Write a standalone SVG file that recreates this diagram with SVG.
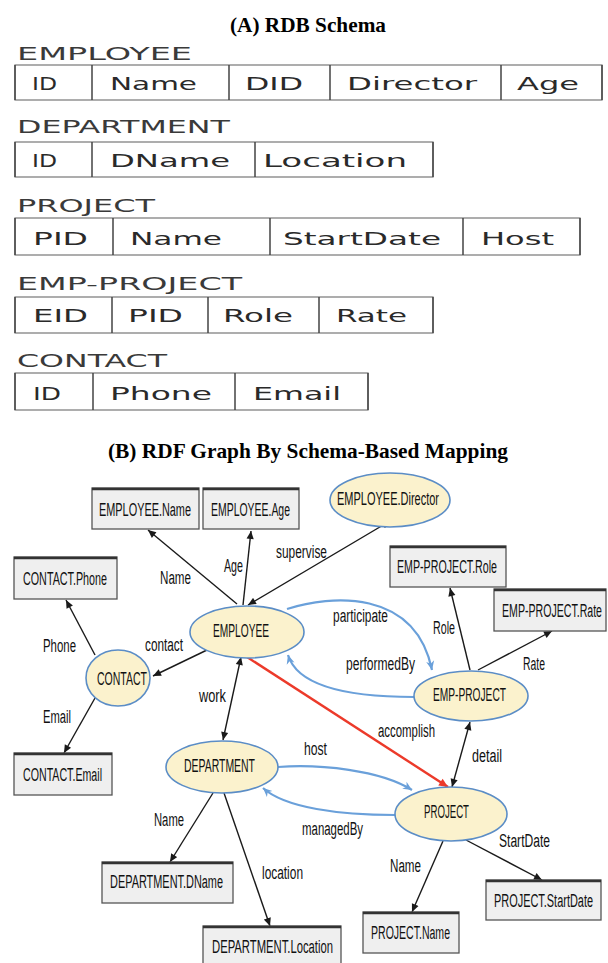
<svg xmlns="http://www.w3.org/2000/svg" width="608" height="963" viewBox="0 0 608 963">
<style>
.title{font-family:"Liberation Serif","Times New Roman",serif;font-weight:bold;font-size:21px;fill:#000}
.tname{font-family:"DejaVu Sans","Verdana",sans-serif;font-size:18px;fill:#3a3a3a}
.cell{font-family:"DejaVu Sans","Verdana",sans-serif;font-size:18px;fill:#2a2a2a}
.tbl{fill:#fff;stroke:#777;stroke-width:1.2}
.div{stroke:#444;stroke-width:1.5}
.g{font-family:"Liberation Sans Narrow","Liberation Sans","Arial",sans-serif;font-size:18px;fill:#111}
.box{fill:#efefef;stroke:#555;stroke-width:1.3}
.boxtop{stroke:#333;stroke-width:2.5}
.ell{fill:#fbf2cd;stroke:#5b8dc6;stroke-width:1.6}
.e{fill:none;stroke:#1a1a1a;stroke-width:1.4}
.b{fill:none;stroke:#6aa0da;stroke-width:2.2}
.r{fill:none;stroke:#ec3a2a;stroke-width:2.4}
</style>
<defs>
<marker id="ak" viewBox="0 0 10 10" refX="10" refY="5" markerWidth="9" markerHeight="8" orient="auto-start-reverse" markerUnits="userSpaceOnUse"><path d="M0,0.5 L10,5 L0,9.5 z" fill="#1a1a1a"/></marker>
<marker id="ab" viewBox="0 0 10 10" refX="10" refY="5" markerWidth="10" markerHeight="9" orient="auto" markerUnits="userSpaceOnUse"><path d="M0,0.5 L10,5 L0,9.5 L3,5 z" fill="#6aa0da"/></marker>
<marker id="ar" viewBox="0 0 10 10" refX="10" refY="5" markerWidth="10" markerHeight="9" orient="auto" markerUnits="userSpaceOnUse"><path d="M0,0.5 L10,5 L0,9.5 z" fill="#ec3a2a"/></marker>
</defs>

<text class="title" x="230" y="32" textLength="156" lengthAdjust="spacingAndGlyphs">(A) RDB Schema</text>

<g id="t-employee">
<text class="tname" x="17" y="60" textLength="175" lengthAdjust="spacingAndGlyphs">EMPLOYEE</text>
<rect class="tbl" x="15" y="65" width="587" height="35"/>
<path class="div" d="M15,65V100M92,65V100M229,65V100M330,65V100M501,65V100M602,65V100"/>
<text class="cell" x="32" y="90" textLength="25" lengthAdjust="spacingAndGlyphs">ID</text>
<text class="cell" x="110" y="90" textLength="87" lengthAdjust="spacingAndGlyphs">Name</text>
<text class="cell" x="245" y="90" textLength="58" lengthAdjust="spacingAndGlyphs">DID</text>
<text class="cell" x="347" y="90" textLength="130" lengthAdjust="spacingAndGlyphs">Director</text>
<text class="cell" x="517" y="90" textLength="62" lengthAdjust="spacingAndGlyphs">Age</text>
</g>

<g id="t-department">
<text class="tname" x="17" y="133" textLength="213" lengthAdjust="spacingAndGlyphs">DEPARTMENT</text>
<rect class="tbl" x="15" y="142" width="418" height="35"/>
<path class="div" d="M15,142V177M92,142V177M255,142V177M433,142V177"/>
<text class="cell" x="32" y="167" textLength="25" lengthAdjust="spacingAndGlyphs">ID</text>
<text class="cell" x="110" y="167" textLength="120" lengthAdjust="spacingAndGlyphs">DName</text>
<text class="cell" x="263" y="167" textLength="144" lengthAdjust="spacingAndGlyphs">Location</text>
</g>

<g id="t-project">
<text class="tname" x="17" y="212" textLength="138" lengthAdjust="spacingAndGlyphs">PROJECT</text>
<rect class="tbl" x="15" y="218" width="565" height="37"/>
<path class="div" d="M15,218V255M113,218V255M270,218V255M463,218V255M580,218V255"/>
<text class="cell" x="33" y="245" textLength="55" lengthAdjust="spacingAndGlyphs">PID</text>
<text class="cell" x="130" y="245" textLength="92" lengthAdjust="spacingAndGlyphs">Name</text>
<text class="cell" x="283" y="245" textLength="158" lengthAdjust="spacingAndGlyphs">StartDate</text>
<text class="cell" x="481" y="245" textLength="73" lengthAdjust="spacingAndGlyphs">Host</text>
</g>

<g id="t-emp-project">
<text class="tname" x="17" y="290" textLength="225" lengthAdjust="spacingAndGlyphs">EMP-PROJECT</text>
<rect class="tbl" x="15" y="297" width="418" height="36"/>
<path class="div" d="M15,297V333M112,297V333M208,297V333M319,297V333M433,297V333"/>
<text class="cell" x="33" y="322" textLength="55" lengthAdjust="spacingAndGlyphs">EID</text>
<text class="cell" x="128" y="322" textLength="55" lengthAdjust="spacingAndGlyphs">PID</text>
<text class="cell" x="223" y="322" textLength="70" lengthAdjust="spacingAndGlyphs">Role</text>
<text class="cell" x="336" y="322" textLength="71" lengthAdjust="spacingAndGlyphs">Rate</text>
</g>

<g id="t-contact">
<text class="tname" x="17" y="367" textLength="150" lengthAdjust="spacingAndGlyphs">CONTACT</text>
<rect class="tbl" x="15" y="373" width="353" height="37"/>
<path class="div" d="M15,373V410M93,373V410M235,373V410M368,373V410"/>
<text class="cell" x="33" y="400" textLength="28" lengthAdjust="spacingAndGlyphs">ID</text>
<text class="cell" x="110" y="400" textLength="102" lengthAdjust="spacingAndGlyphs">Phone</text>
<text class="cell" x="253" y="400" textLength="88" lengthAdjust="spacingAndGlyphs">Email</text>
</g>

<text class="title" x="108" y="458" textLength="400" lengthAdjust="spacingAndGlyphs">(B) RDF Graph By Schema-Based Mapping</text>

<g id="connectors">
<path class="e" d="M237,604 L148,530" marker-end="url(#ak)"/>
<path class="e" d="M243,605 L251,531" marker-end="url(#ak)"/>
<path class="e" d="M248,605 L390,521" marker-start="url(#ak)" marker-end="url(#ak)"/>
<path class="e" d="M207,650 L153,676" marker-end="url(#ak)"/>
<path class="e" d="M95,655 L66,600" marker-end="url(#ak)"/>
<path class="e" d="M95,698 L64,753" marker-end="url(#ak)"/>
<path class="e" d="M241,657 L223,740" marker-start="url(#ak)" marker-end="url(#ak)"/>
<path class="e" d="M213,793 L170,862" marker-end="url(#ak)"/>
<path class="e" d="M224,793 L270,926" marker-end="url(#ak)"/>
<path class="e" d="M470,670 L450,588" marker-end="url(#ak)"/>
<path class="e" d="M478,670 L552,631" marker-end="url(#ak)"/>
<path class="e" d="M470,722 L452,787" marker-start="url(#ak)" marker-end="url(#ak)"/>
<path class="e" d="M443,841 L412,912" marker-end="url(#ak)"/>
<path class="e" d="M466,840 L542,880" marker-end="url(#ak)"/>
<path class="r" d="M247,657 L448,787" marker-end="url(#ar)"/>
<path class="b" d="M287,609 C330,595 415,588 432,670" marker-end="url(#ab)"/>
<path class="b" d="M414,697 C355,697 298,688 288,655" marker-end="url(#ab)"/>
<path class="b" d="M278,767 C320,764 380,770 412,790" marker-end="url(#ab)"/>
<path class="b" d="M395,815 C340,815 285,808 263,788" marker-end="url(#ab)"/>
<text class="g" x="160" y="584" textLength="31" lengthAdjust="spacingAndGlyphs">Name</text>
<text class="g" x="224" y="572" textLength="19" lengthAdjust="spacingAndGlyphs">Age</text>
<text class="g" x="276" y="558" textLength="51" lengthAdjust="spacingAndGlyphs">supervise</text>
<text class="g" x="43" y="652" textLength="33" lengthAdjust="spacingAndGlyphs">Phone</text>
<text class="g" x="145" y="651" textLength="38" lengthAdjust="spacingAndGlyphs">contact</text>
<text class="g" x="199" y="702" textLength="27" lengthAdjust="spacingAndGlyphs">work</text>
<text class="g" x="43" y="723" textLength="28" lengthAdjust="spacingAndGlyphs">Email</text>
<text class="g" x="333" y="622" textLength="55" lengthAdjust="spacingAndGlyphs">participate</text>
<text class="g" x="433" y="634" textLength="22" lengthAdjust="spacingAndGlyphs">Role</text>
<text class="g" x="346" y="670" textLength="69" lengthAdjust="spacingAndGlyphs">performedBy</text>
<text class="g" x="523" y="670" textLength="22" lengthAdjust="spacingAndGlyphs">Rate</text>
<text class="g" x="378" y="737" textLength="57" lengthAdjust="spacingAndGlyphs">accomplish</text>
<text class="g" x="304" y="755" textLength="23" lengthAdjust="spacingAndGlyphs">host</text>
<text class="g" x="472" y="762" textLength="30" lengthAdjust="spacingAndGlyphs">detail</text>
<text class="g" x="302" y="835" textLength="61" lengthAdjust="spacingAndGlyphs">managedBy</text>
<text class="g" x="499" y="847" textLength="51" lengthAdjust="spacingAndGlyphs">StartDate</text>
<text class="g" x="390" y="872" textLength="31" lengthAdjust="spacingAndGlyphs">Name</text>
<text class="g" x="154" y="826" textLength="30" lengthAdjust="spacingAndGlyphs">Name</text>
<text class="g" x="262" y="879" textLength="41" lengthAdjust="spacingAndGlyphs">location</text>
</g>

<g id="n-employee-name">
<rect class="box" x="92" y="488" width="107" height="41"/><path class="boxtop" d="M92,489H199"/>
<text class="g" x="99" y="516" textLength="92" lengthAdjust="spacingAndGlyphs">EMPLOYEE.Name</text>
</g>
<g id="n-employee-age">
<rect class="box" x="203" y="488" width="96" height="41"/><path class="boxtop" d="M203,489H299"/>
<text class="g" x="211" y="516" textLength="79" lengthAdjust="spacingAndGlyphs">EMPLOYEE.Age</text>
</g>
<g id="n-employee-director">
<ellipse class="ell" cx="390" cy="500" rx="60" ry="27"/>
<text class="g" x="337" y="505" textLength="102" lengthAdjust="spacingAndGlyphs">EMPLOYEE.Director</text>
</g>
<g id="n-contact-phone">
<rect class="box" x="14" y="557" width="103" height="42"/><path class="boxtop" d="M14,558H117"/>
<text class="g" x="23" y="585" textLength="84" lengthAdjust="spacingAndGlyphs">CONTACT.Phone</text>
</g>
<g id="n-employee">
<ellipse class="ell" cx="247" cy="632" rx="57" ry="26"/>
<text class="g" x="213" y="637" textLength="56" lengthAdjust="spacingAndGlyphs">EMPLOYEE</text>
</g>
<g id="n-contact">
<ellipse class="ell" cx="118" cy="678" rx="32" ry="28"/>
<text class="g" x="97" y="685" textLength="50" lengthAdjust="spacingAndGlyphs">CONTACT</text>
</g>
<g id="n-emp-project-role">
<rect class="box" x="390" y="546" width="116" height="41"/><path class="boxtop" d="M390,547H506"/>
<text class="g" x="397" y="573" textLength="100" lengthAdjust="spacingAndGlyphs">EMP-PROJECT.Role</text>
</g>
<g id="n-emp-project-rate">
<rect class="box" x="494" y="589" width="112" height="42"/><path class="boxtop" d="M494,590H606"/>
<text class="g" x="502" y="617" textLength="100" lengthAdjust="spacingAndGlyphs">EMP-PROJECT.Rate</text>
</g>
<g id="n-emp-project">
<ellipse class="ell" cx="471" cy="696" rx="57" ry="25"/>
<text class="g" x="433" y="701" textLength="73" lengthAdjust="spacingAndGlyphs">EMP-PROJECT</text>
</g>
<g id="n-contact-email">
<rect class="box" x="14" y="753" width="98" height="42"/><path class="boxtop" d="M14,754H112"/>
<text class="g" x="23" y="781" textLength="79" lengthAdjust="spacingAndGlyphs">CONTACT.Email</text>
</g>
<g id="n-department">
<ellipse class="ell" cx="222" cy="767" rx="56" ry="26"/>
<text class="g" x="184" y="772" textLength="71" lengthAdjust="spacingAndGlyphs">DEPARTMENT</text>
</g>
<g id="n-project">
<ellipse class="ell" cx="451" cy="814" rx="56" ry="27"/>
<text class="g" x="424" y="818" textLength="45" lengthAdjust="spacingAndGlyphs">PROJECT</text>
</g>
<g id="n-department-dname">
<rect class="box" x="102" y="862" width="131" height="41"/><path class="boxtop" d="M102,863H233"/>
<text class="g" x="110" y="888" textLength="113" lengthAdjust="spacingAndGlyphs">DEPARTMENT.DName</text>
</g>
<g id="n-department-location">
<rect class="box" x="203" y="926" width="138" height="40"/><path class="boxtop" d="M203,927H341"/>
<text class="g" x="212" y="953" textLength="121" lengthAdjust="spacingAndGlyphs">DEPARTMENT.Location</text>
</g>
<g id="n-project-name">
<rect class="box" x="363" y="912" width="96" height="41"/><path class="boxtop" d="M363,913H459"/>
<text class="g" x="371" y="939" textLength="79" lengthAdjust="spacingAndGlyphs">PROJECT.Name</text>
</g>
<g id="n-project-startdate">
<rect class="box" x="486" y="880" width="115" height="40"/><path class="boxtop" d="M486,881H601"/>
<text class="g" x="494" y="907" textLength="99" lengthAdjust="spacingAndGlyphs">PROJECT.StartDate</text>
</g>
</svg>
